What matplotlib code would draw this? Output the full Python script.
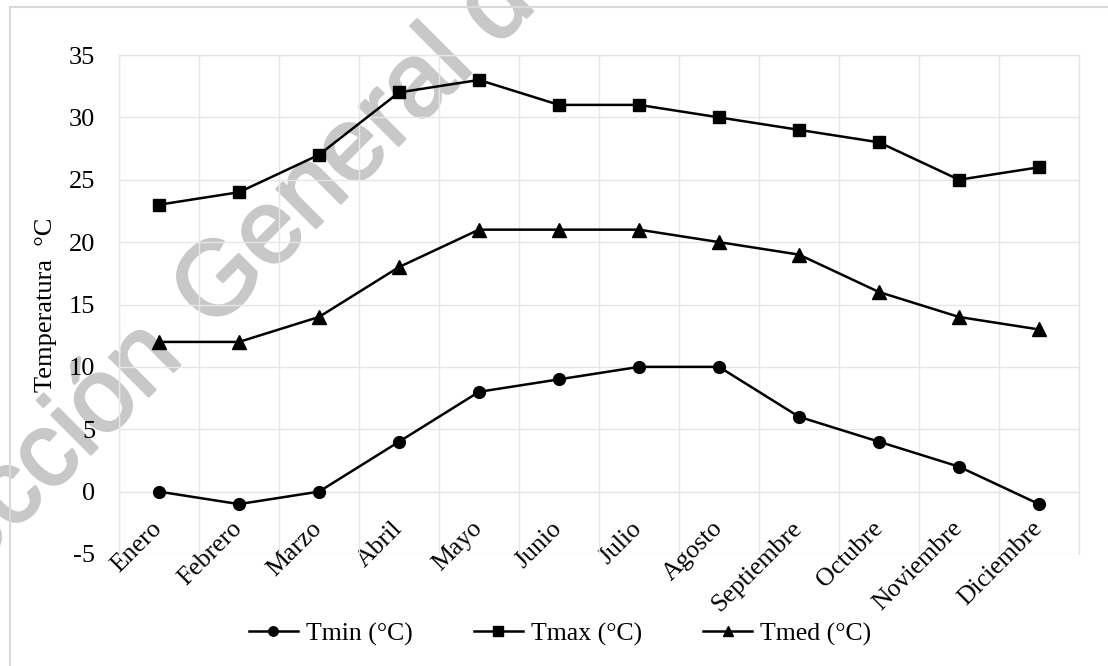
import numpy as np
import matplotlib
matplotlib.use("Agg")
import matplotlib.pyplot as plt
import matplotlib.patheffects as pe
from matplotlib.lines import Line2D

plt.rcParams['font.family'] = ['Liberation Serif', 'DejaVu Serif']

# monthly temperatures
meses = ['Enero', 'Febrero', 'Marzo', 'Abril', 'Mayo', 'Junio', 'Julio',
         'Agosto', 'Septiembre', 'Octubre', 'Noviembre', 'Diciembre']
tmin = [0, -1, 0, 4, 8, 9, 10, 10, 6, 4, 2, -1]
tmax = [23, 24, 27, 32, 33, 31, 31, 30, 29, 28, 25, 26]
tmed = [12, 12, 14, 18, 21, 21, 21, 20, 19, 16, 14, 13]
yticks = [-5, 0, 5, 10, 15, 20, 25, 30, 35]

W, H = 1108, 666
fig = plt.figure(figsize=(W / 100, H / 100), dpi=100)
ax = fig.add_axes([119 / W, 1 - 554 / H, (1079 - 119) / W, (554 - 55) / H])
ax.set_facecolor('none')

x = np.arange(len(meses))
lw = 1.8
ms = 8.5
l1, = ax.plot(x, tmin, color='black', lw=lw, marker='o', ms=ms, zorder=3)
l2, = ax.plot(x, tmax, color='black', lw=lw, marker='s', ms=ms, zorder=3)
l3, = ax.plot(x, tmed, color='black', lw=lw, marker='^', ms=ms + 1, zorder=3)

ax.set_xlim(-0.5, len(meses) - 0.5)
ax.set_ylim(-5, 35)
ax.set_yticks(yticks)
ax.set_yticklabels([str(v) for v in yticks], fontsize=19)

# category axis crosses at 0, labels hang below it
ax.spines['bottom'].set_position(('data', 0))
ax.set_xticks(x)
ax.set_xticklabels(meses, fontsize=18.5, rotation=45, ha='right', va='center',
                   rotation_mode='anchor')
ax.set_xticks(np.arange(-0.5, len(meses), 1), minor=True)

gc = '#e6e6e6'
ax.grid(True, which='minor', axis='x', color=gc, lw=1)
ax.grid(True, which='major', axis='y', color=gc, lw=1)
ax.tick_params(axis='both', which='both', length=0)
ax.tick_params(axis='y', pad=17)
ax.tick_params(axis='x', pad=24)
for s in ax.spines.values():
    s.set_color(gc)
    s.set_linewidth(1)

ax.set_ylabel('Temperatura  °C', fontsize=19)
ax.yaxis.set_label_coords((57 - 119) / (1079 - 119), 0.5)

# watermark behind the chart
wm_kw = dict(fontsize=75.5, color='#c8c8c8', rotation=45, rotation_mode='anchor',
             va='baseline', family='Liberation Sans', transform=fig.transFigure,
             clip_on=False, zorder=0.1,
             path_effects=[pe.withStroke(linewidth=2, foreground='#c8c8c8')])
ax.text(185 / W, 1 - 360 / H, 'Dirección', ha='right', **wm_kw)
ax.text(212 / W, 1 - 332 / H, 'General de Bibliotecas UAQ', ha='left', **wm_kw)

# chart area border (top and left)
bc = '#d9d9d9'
fig.add_artist(Line2D([10 / W, 1], [1 - 7 / H, 1 - 7 / H], color=bc, lw=1.5))
fig.add_artist(Line2D([10 / W, 10 / W], [0, 1 - 7 / H], color=bc, lw=1.5))

fig.legend([l1, l2, l3], ['Tmin (°C)', 'Tmax (°C)', 'Tmed (°C)'],
           loc='center', bbox_to_anchor=(560 / W, 1 - 634 / H), ncol=3,
           frameon=False, fontsize=18.5, handlelength=1.9, handletextpad=0.3,
           columnspacing=2.4, markerscale=0.8)

fig.savefig('out.png', dpi=100)
